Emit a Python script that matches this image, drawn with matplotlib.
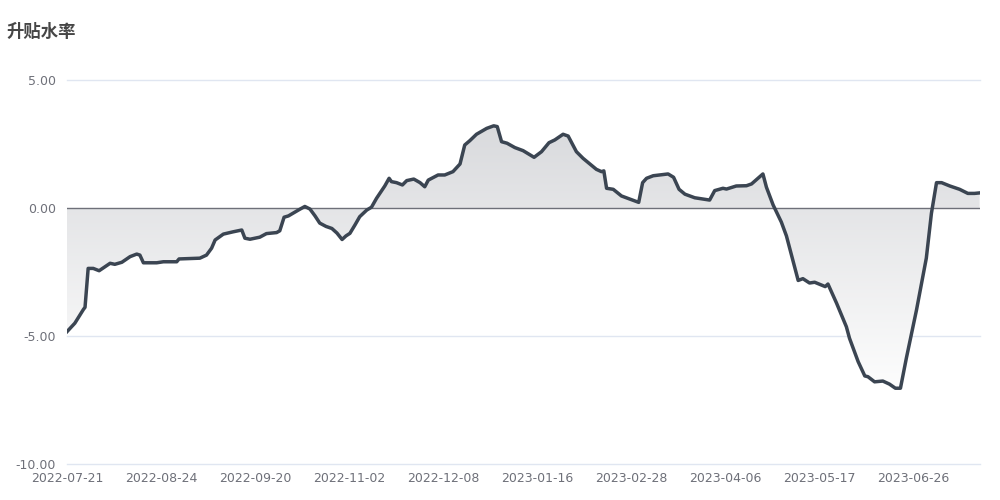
import numpy as np
import matplotlib
matplotlib.use("Agg")
import matplotlib.pyplot as plt
from matplotlib.colors import LinearSegmentedColormap

# category positions (trading-day index) and premium/discount rate values
idx = [0, 2.0, 4.2, 4.6, 5.4, 6.7, 8.2, 11.0, 12.2, 14.0, 16.1, 17.8, 18.6, 19.5, 22.9,
       24.6, 28.0, 28.6, 33.9, 35.6, 36.9, 37.8, 39.9, 40.7, 42.4, 44.6, 45.4, 46.7, 49.2,
       50.9, 53.5, 54.3, 55.4, 56.5, 59.4, 60.7, 62.0, 63.3, 64.5, 66.1, 67.6, 68.9, 70.2,
       71.2, 72.2, 73.5, 74.7, 76.5, 77.7, 79.0, 81.1, 82.2, 82.8, 84.1, 85.6, 86.7, 88.5,
       90.1, 91.3, 92.2, 94.7, 96.4, 98.5, 100.3, 101.5, 102.8, 104.5, 107.1, 108.9, 109.8,
       110.9, 112.3, 114.3, 116.4, 119.2, 121.1, 123.0, 124.5, 126.6, 127.9, 130.0, 131.7,
       135.1, 136.4, 137.0, 137.7, 139.4, 141.5, 145.9, 146.9, 147.9, 149.6, 153.4, 154.8,
       156.2, 157.7, 160.2, 164.0, 165.3, 167.4, 168.3, 170.8, 173.4, 174.7, 177.6, 178.5,
       180.2, 182.3, 183.6, 186.6, 187.8, 189.5, 190.8, 193.5, 194.2, 196.4, 198.9, 199.7,
       201.9, 203.6, 204.4, 206.1, 208.2, 209.9, 211.4, 212.7, 214.2, 216.8, 219.3, 220.6,
       221.9, 223.2, 225.3, 227.8, 229.9, 231.6, 232.9]
rate = [-4.83, -4.50, -3.96, -3.88, -2.36, -2.36, -2.45, -2.16, -2.20, -2.12, -1.90, -1.80,
        -1.84, -2.14, -2.14, -2.10, -2.10, -1.99, -1.96, -1.84, -1.57, -1.25, -1.02, -0.99,
        -0.93, -0.86, -1.18, -1.22, -1.14, -1.00, -0.96, -0.89, -0.36, -0.31, -0.05, 0.06,
        -0.04, -0.31, -0.59, -0.72, -0.80, -0.98, -1.23, -1.09, -0.99, -0.66, -0.34, -0.08,
        0.03, 0.38, 0.86, 1.16, 1.03, 0.99, 0.90, 1.07, 1.13, 0.99, 0.83, 1.09, 1.29, 1.29,
        1.42, 1.72, 2.46, 2.63, 2.88, 3.11, 3.21, 3.18, 2.59, 2.53, 2.36, 2.24, 1.98, 2.20,
        2.55, 2.66, 2.88, 2.81, 2.20, 1.94, 1.51, 1.42, 1.45, 0.77, 0.73, 0.47, 0.22, 0.99,
        1.16, 1.26, 1.33, 1.20, 0.73, 0.54, 0.40, 0.31, 0.68, 0.77, 0.74, 0.86, 0.87, 0.94,
        1.33, 0.81, 0.12, -0.55, -1.09, -2.83, -2.76, -2.93, -2.90, -3.07, -2.97, -3.72,
        -4.64, -5.09, -6.00, -6.56, -6.59, -6.79, -6.76, -6.88, -7.04, -7.04, -5.87, -3.98,
        -1.96, -0.21, 0.99, 0.99, 0.86, 0.73, 0.57, 0.57, 0.59]

tick_pos = [0, 24, 48, 72, 96, 120, 144, 168, 192, 216]
tick_labels = ["2022-07-21", "2022-08-24", "2022-09-20", "2022-11-02", "2022-12-08",
               "2023-01-16", "2023-02-28", "2023-04-06", "2023-05-17", "2023-06-26"]
y_ticks = [5, 0, -5, -10]

plt.rcParams['font.family'] = ['DejaVu Sans']

fig = plt.figure(figsize=(10, 5), dpi=100)
ax = fig.add_axes([0.067, 0.072, 0.913, 0.768])

x = np.array(idx)
y = np.array(rate)

# gradient area between line and zero
poly = ax.fill_between(x, y, 0, facecolor="none", edgecolor="none")
cmap = LinearSegmentedColormap.from_list("g", [(217/255, 218/255, 221/255), (253/255, 253/255, 253/255)])
grad = np.linspace(0, 1, 256).reshape(-1, 1)
im = ax.imshow(grad, cmap=cmap, aspect="auto", extent=[x.min(), x.max(), y.min(), y.max()],
               origin="upper", zorder=1)
path = poly.get_paths()[0]
im.set_clip_path(path, transform=ax.transData)

for v in y_ticks:
    if v != 0:
        ax.axhline(v, color="#e0e6f1", lw=1, zorder=0.5, clip_on=False)
ax.axhline(0, color="#6e7079", lw=1, zorder=2)

ax.plot(x, y, color="#3b4552", lw=2.5, zorder=3, solid_joinstyle="round")

ax.set_xlim(0, 233)
ax.set_ylim(-10, 5)
ax.set_yticks(y_ticks)
ax.set_yticklabels(["%.2f" % v for v in y_ticks])
ax.set_xticks(tick_pos)
ax.set_xticklabels(tick_labels)
ax.tick_params(axis="both", length=0, labelsize=9, colors="#6e7079")
ax.tick_params(axis="y", pad=8)
ax.tick_params(axis="x", pad=6)
for s in ax.spines.values():
    s.set_visible(False)

fig.text(0.006, 0.936, "升贴水率", fontsize=12.5, fontweight="bold", color="#464646",
         family=["Noto Sans CJK SC", "DejaVu Sans"], va="center", ha="left")

fig.savefig("out.png", dpi=100)
